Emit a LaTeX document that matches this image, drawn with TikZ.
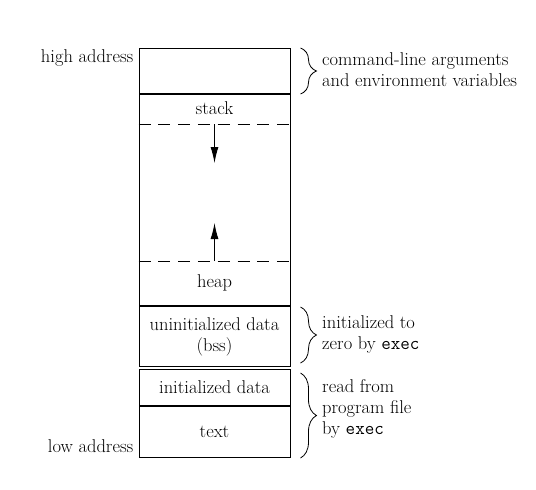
\documentclass[tikz,border=0pt]{standalone}
\usetikzlibrary{positioning,arrows.meta,decorations.pathreplacing}
\tikzstyle{seg}=[draw, line width=1pt, minimum width=151pt, inner sep=0pt, align=center]
\tikzstyle{brc}=[decorate, line width=0.8pt, decoration={brace, amplitude=16pt}]
\tikzstyle{note}=[anchor=west, align=left, inner sep=0pt]
\tikzstyle{growarr}=[line width=1pt, -{Latex[length=16pt,width=8pt]}]
\tikzstyle{limit}=[dash pattern=on 12pt off 7.8pt, line width=0.8pt]

\begin{document}
\begin{tikzpicture}[x=1pt, y=-1pt, font=\fontsize{18.5}{21}\selectfont]
            \useasboundingbox (0,0) rectangle (536,490);
            \node [seg, minimum height=45pt, anchor=north] (args) at (214.5,48) {};
            \node [seg, minimum height=211pt, below=0pt of args] (mem) {};
            \node [seg, minimum height=60pt, below=0pt of mem] (bss) {uninitialized data\\(bss)};
            \node [seg, minimum height=36pt, below=2pt of bss] (data) {initialized data};
            \node [seg, minimum height=51pt, below=0pt of data] (txt) {text};
            \node [anchor=north east, inner sep=0pt, xshift=-5pt, yshift=-1pt] (high) at (args.north west) {high address};
            \node [anchor=base east, inner sep=0pt, xshift=-5pt, yshift=6pt] (low) at (txt.south west) {low address};
            \node [yshift=-14.5pt] (stk) at (mem.north) {stack};
            \node [yshift=23pt] (heap) at (mem.south) {heap};
            \coordinate [yshift=-30pt] (top) at (mem.north);
            \coordinate [yshift=45pt] (bot) at (mem.south);
            \coordinate [yshift=-69pt] (topend) at (mem.north);
            \coordinate [yshift=83pt] (botend) at (mem.south);
            \draw [limit] (mem.west |- top) -- (mem.east |- top);
            \draw [limit] (mem.west |- bot) -- (mem.east |- bot);
            \draw [growarr] (top) -- (topend);
            \draw [growarr] (bot) -- (botend);
            \draw [brc] ([xshift=10pt]args.north east) -- ([xshift=10pt]args.south east);
            \draw [brc] ([xshift=10pt,yshift=-1pt]bss.north east) -- ([xshift=10pt,yshift=4pt]bss.south east);
            \draw [brc] ([xshift=10pt,yshift=-4pt]data.north east) -- ([xshift=10pt]txt.south east);
            \node [note] (argnote) at (322,70) {command-line arguments\\and environment variables};
            \node [note] (bssnote) at (322,334) {initialized to\\zero by \texttt{exec}};
            \node [note] (filenote) at (322,409) {read from\\program file\\by \texttt{exec}};
        \end{tikzpicture}
\end{document}
